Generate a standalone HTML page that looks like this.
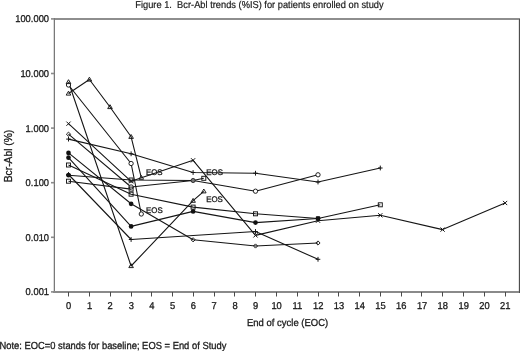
<!DOCTYPE html>
<html><head><meta charset="utf-8"><style>
html,body{margin:0;padding:0;background:#fff;overflow:hidden}
svg{display:block;will-change:transform}
</style></head><body>
<svg width="520" height="351" viewBox="0 0 520 351">
<style>
.l{fill:none;stroke:#151515;stroke-width:1.1;stroke-linejoin:round}
.o{fill:none;stroke:#151515;stroke-width:0.95}
.f{fill:#111;stroke:none}
.m{fill:none;stroke:#151515;stroke-width:1}
.t{font-family:"Liberation Sans",sans-serif;font-size:9.4px;fill:#1a1a1a;stroke:#1a1a1a;stroke-width:0.3px}
</style>
<rect width="520" height="351" fill="#fff"/>
<rect x="518" y="20" width="1" height="271" fill="#e4e4e4"/>
<rect x="54" y="18" width="466" height="2" fill="#8e8e8e"/>
<rect x="519" y="19" width="1" height="274" fill="#4d4d4d"/>
<rect x="53" y="18" width="1" height="275" fill="#dadada"/>
<rect x="54" y="18" width="1" height="275" fill="#797979"/>
<rect x="53" y="291" width="466" height="2" fill="#8a8a8a"/>
<rect x="51" y="18.1" width="3" height="1.6" fill="#8a8a8a"/>
<rect x="51" y="72.7" width="3" height="1.6" fill="#8a8a8a"/>
<rect x="51" y="127.3" width="3" height="1.6" fill="#8a8a8a"/>
<rect x="51" y="181.9" width="3" height="1.6" fill="#8a8a8a"/>
<rect x="51" y="236.5" width="3" height="1.6" fill="#8a8a8a"/>
<rect x="51" y="291.1" width="3" height="1.6" fill="#8a8a8a"/>
<rect x="68" y="292" width="1" height="4.5" fill="#4a4a4a"/>
<rect x="89" y="292" width="1" height="4.5" fill="#4a4a4a"/>
<rect x="110" y="292" width="1" height="4.5" fill="#4a4a4a"/>
<rect x="131" y="292" width="1" height="4.5" fill="#4a4a4a"/>
<rect x="151" y="292" width="1" height="4.5" fill="#4a4a4a"/>
<rect x="172" y="292" width="1" height="4.5" fill="#4a4a4a"/>
<rect x="193" y="292" width="1" height="4.5" fill="#4a4a4a"/>
<rect x="214" y="292" width="1" height="4.5" fill="#4a4a4a"/>
<rect x="234" y="292" width="1" height="4.5" fill="#4a4a4a"/>
<rect x="255" y="292" width="1" height="4.5" fill="#4a4a4a"/>
<rect x="276" y="292" width="1" height="4.5" fill="#4a4a4a"/>
<rect x="297" y="292" width="1" height="4.5" fill="#4a4a4a"/>
<rect x="318" y="292" width="1" height="4.5" fill="#4a4a4a"/>
<rect x="338" y="292" width="1" height="4.5" fill="#4a4a4a"/>
<rect x="359" y="292" width="1" height="4.5" fill="#4a4a4a"/>
<rect x="380" y="292" width="1" height="4.5" fill="#4a4a4a"/>
<rect x="401" y="292" width="1" height="4.5" fill="#4a4a4a"/>
<rect x="421" y="292" width="1" height="4.5" fill="#4a4a4a"/>
<rect x="442" y="292" width="1" height="4.5" fill="#4a4a4a"/>
<rect x="463" y="292" width="1" height="4.5" fill="#4a4a4a"/>
<rect x="484" y="292" width="1" height="4.5" fill="#4a4a4a"/>
<rect x="505" y="292" width="1" height="4.5" fill="#4a4a4a"/>
<path d="M68.5 93.5L89.4 79.5L110.0 107.0L131.1 136.8L141.3 177.7" class="l"/>
<path d="M68.5 85.0L131.1 163.5L141.3 214.0" class="l"/>
<path d="M68.5 82.0L131.1 266.0L193.1 200.7L203.8 191.3" class="l"/>
<path d="M68.5 123.7L131.1 181.3L193.1 160.3L255.5 235.4L318.0 220.7L380.3 215.3L442.6 229.6L505.1 203.0" class="l"/>
<path d="M68.5 139.1L131.1 153.8L193.1 172.5L255.5 173.2L318.0 182.0L380.3 168.0" class="l"/>
<path d="M68.5 152.9L131.1 203.8L193.1 239.8L255.5 246.0L318.0 243.0" class="l"/>
<path d="M68.5 157.7L131.1 226.4L193.1 211.4L255.5 222.6L318.0 218.5" class="l"/>
<path d="M68.5 174.5L131.1 239.5L255.5 231.5L318.0 259.3" class="l"/>
<path d="M68.5 165.0L131.1 194.2L193.1 207.1L255.5 213.8L318.0 218.5L380.3 204.8" class="l"/>
<path d="M68.5 175.2L131.1 180.0L193.1 180.5L203.8 178.3" class="l"/>
<path d="M68.5 134.2L131.1 187.0L193.1 180.5L255.5 191.2L318.0 174.8" class="l"/>
<path d="M68.5 181.2L131.1 189.1" class="l"/>
<path d="M68.50 91.20L70.80 95.10L66.20 95.10Z" class="o"/>
<path d="M89.40 77.20L91.70 81.10L87.10 81.10Z" class="o"/>
<path d="M110.00 104.70L112.30 108.60L107.70 108.60Z" class="o"/>
<path d="M131.10 134.50L133.40 138.40L128.80 138.40Z" class="o"/>
<path d="M141.30 175.40L143.60 179.30L139.00 179.30Z" class="o"/>
<circle cx="68.50" cy="85.00" r="2.15" class="o" fill="#fff" style="fill:#fff"/>
<circle cx="131.10" cy="163.50" r="2.15" class="o" fill="#fff" style="fill:#fff"/>
<circle cx="141.30" cy="214.00" r="2.15" class="o" fill="#fff" style="fill:#fff"/>
<path d="M68.50 79.70L70.80 83.60L66.20 83.60Z" class="o"/>
<path d="M131.10 263.70L133.40 267.60L128.80 267.60Z" class="o"/>
<path d="M193.10 198.40L195.40 202.30L190.80 202.30Z" class="o"/>
<path d="M203.80 189.00L206.10 192.90L201.50 192.90Z" class="o"/>
<path d="M66.40 121.60L70.60 125.80M70.60 121.60L66.40 125.80" class="m"/>
<path d="M129.00 179.20L133.20 183.40M133.20 179.20L129.00 183.40" class="m"/>
<path d="M191.00 158.20L195.20 162.40M195.20 158.20L191.00 162.40" class="m"/>
<path d="M253.40 233.30L257.60 237.50M257.60 233.30L253.40 237.50" class="m"/>
<path d="M315.90 218.60L320.10 222.80M320.10 218.60L315.90 222.80" class="m"/>
<path d="M378.20 213.20L382.40 217.40M382.40 213.20L378.20 217.40" class="m"/>
<path d="M440.50 227.50L444.70 231.70M444.70 227.50L440.50 231.70" class="m"/>
<path d="M503.00 200.90L507.20 205.10M507.20 200.90L503.00 205.10" class="m"/>
<path d="M66.20 139.10H70.80M68.50 136.70V141.50" class="m"/>
<path d="M128.80 153.80H133.40M131.10 151.40V156.20" class="m"/>
<path d="M190.80 172.50H195.40M193.10 170.10V174.90" class="m"/>
<path d="M253.20 173.20H257.80M255.50 170.80V175.60" class="m"/>
<path d="M315.70 182.00H320.30M318.00 179.60V184.40" class="m"/>
<path d="M378.00 168.00H382.60M380.30 165.60V170.40" class="m"/>
<circle cx="68.50" cy="152.90" r="2.35" class="f"/>
<circle cx="131.10" cy="203.80" r="2.35" class="f"/>
<path d="M193.10 237.70L195.20 239.80L193.10 241.90L191.00 239.80Z" class="o"/>
<path d="M255.50 243.90L257.60 246.00L255.50 248.10L253.40 246.00Z" class="o"/>
<path d="M318.00 240.90L320.10 243.00L318.00 245.10L315.90 243.00Z" class="o"/>
<circle cx="68.50" cy="157.70" r="2.35" class="f"/>
<circle cx="131.10" cy="226.40" r="2.35" class="f"/>
<circle cx="193.10" cy="211.40" r="2.35" class="f"/>
<circle cx="255.50" cy="222.60" r="2.35" class="f"/>
<circle cx="318.00" cy="218.50" r="2.35" class="f"/>
<path d="M66.20 174.50H70.80M68.50 172.10V176.90" class="m"/>
<path d="M128.80 239.50H133.40M131.10 237.10V241.90" class="m"/>
<path d="M253.20 231.50H257.80M255.50 229.10V233.90" class="m"/>
<path d="M315.70 259.30H320.30M318.00 256.90V261.70" class="m"/>
<rect x="66.50" y="163.00" width="4" height="4" class="o"/>
<rect x="129.10" y="192.20" width="4" height="4" class="o"/>
<rect x="191.10" y="205.10" width="4" height="4" class="o"/>
<rect x="253.50" y="211.80" width="4" height="4" class="o"/>
<rect x="315.90" y="216.40" width="4.2" height="4.2" class="f"/>
<rect x="378.30" y="202.80" width="4" height="4" class="o"/>
<circle cx="68.50" cy="175.20" r="2.35" class="f"/>
<rect x="129.10" y="178.00" width="4" height="4" class="o"/>

<rect x="201.80" y="176.30" width="4" height="4" class="o"/>
<path d="M68.50 132.10L70.60 134.20L68.50 136.30L66.40 134.20Z" class="o"/>
<circle cx="131.10" cy="187.00" r="2.15" class="o" fill="#fff" style="fill:#fff"/>
<circle cx="193.10" cy="180.50" r="2.1" fill="#777" stroke="#222" stroke-width="0.9"/>
<circle cx="255.50" cy="191.20" r="2.15" class="o" fill="#fff" style="fill:#fff"/>
<circle cx="318.00" cy="174.80" r="2.15" class="o" fill="#fff" style="fill:#fff"/>
<rect x="66.50" y="179.20" width="4" height="4" class="o"/>
<rect x="129.10" y="187.10" width="4" height="4" class="o"/>
<text transform="translate(49.1 22.45) skewX(0.3) scale(0.94 1)" text-anchor="end" class="t" style="font-size:10px">100.000</text>
<text transform="translate(49.1 77.05) skewX(0.3) scale(0.94 1)" text-anchor="end" class="t" style="font-size:10px">10.000</text>
<text transform="translate(49.1 131.65) skewX(0.3) scale(0.94 1)" text-anchor="end" class="t" style="font-size:10px">1.000</text>
<text transform="translate(49.1 186.25) skewX(0.3) scale(0.94 1)" text-anchor="end" class="t" style="font-size:10px">0.100</text>
<text transform="translate(49.1 240.85) skewX(0.3) scale(0.94 1)" text-anchor="end" class="t" style="font-size:10px">0.010</text>
<text transform="translate(49.1 295.45) skewX(0.3) scale(0.94 1)" text-anchor="end" class="t" style="font-size:10px">0.001</text>
<text transform="translate(68.7 309.1) skewX(0.3) scale(0.94 1)" text-anchor="middle" class="t" style="font-size:10px">0</text>
<text transform="translate(89.6 309.1) skewX(0.3) scale(0.94 1)" text-anchor="middle" class="t" style="font-size:10px">1</text>
<text transform="translate(110.2 309.1) skewX(0.3) scale(0.94 1)" text-anchor="middle" class="t" style="font-size:10px">2</text>
<text transform="translate(131.3 309.1) skewX(0.3) scale(0.94 1)" text-anchor="middle" class="t" style="font-size:10px">3</text>
<text transform="translate(151.9 309.1) skewX(0.3) scale(0.94 1)" text-anchor="middle" class="t" style="font-size:10px">4</text>
<text transform="translate(172.7 309.1) skewX(0.3) scale(0.94 1)" text-anchor="middle" class="t" style="font-size:10px">5</text>
<text transform="translate(193.3 309.1) skewX(0.3) scale(0.94 1)" text-anchor="middle" class="t" style="font-size:10px">6</text>
<text transform="translate(214.2 309.1) skewX(0.3) scale(0.94 1)" text-anchor="middle" class="t" style="font-size:10px">7</text>
<text transform="translate(235.0 309.1) skewX(0.3) scale(0.94 1)" text-anchor="middle" class="t" style="font-size:10px">8</text>
<text transform="translate(255.7 309.1) skewX(0.3) scale(0.94 1)" text-anchor="middle" class="t" style="font-size:10px">9</text>
<text transform="translate(276.6 309.1) skewX(0.3) scale(0.94 1)" text-anchor="middle" class="t" style="font-size:10px">10</text>
<text transform="translate(297.4 309.1) skewX(0.3) scale(0.94 1)" text-anchor="middle" class="t" style="font-size:10px">11</text>
<text transform="translate(318.2 309.1) skewX(0.3) scale(0.94 1)" text-anchor="middle" class="t" style="font-size:10px">12</text>
<text transform="translate(339.0 309.1) skewX(0.3) scale(0.94 1)" text-anchor="middle" class="t" style="font-size:10px">13</text>
<text transform="translate(359.8 309.1) skewX(0.3) scale(0.94 1)" text-anchor="middle" class="t" style="font-size:10px">14</text>
<text transform="translate(380.5 309.1) skewX(0.3) scale(0.94 1)" text-anchor="middle" class="t" style="font-size:10px">15</text>
<text transform="translate(401.3 309.1) skewX(0.3) scale(0.94 1)" text-anchor="middle" class="t" style="font-size:10px">16</text>
<text transform="translate(422.1 309.1) skewX(0.3) scale(0.94 1)" text-anchor="middle" class="t" style="font-size:10px">17</text>
<text transform="translate(442.8 309.1) skewX(0.3) scale(0.94 1)" text-anchor="middle" class="t" style="font-size:10px">18</text>
<text transform="translate(463.7 309.1) skewX(0.3) scale(0.94 1)" text-anchor="middle" class="t" style="font-size:10px">19</text>
<text transform="translate(484.5 309.1) skewX(0.3) scale(0.94 1)" text-anchor="middle" class="t" style="font-size:10px">20</text>
<text transform="translate(505.3 309.1) skewX(0.3) scale(0.94 1)" text-anchor="middle" class="t" style="font-size:10px">21</text>
<text transform="translate(135.3 8.0) skewX(0.3)" class="t" style="font-size:10px;stroke-width:0.2px" textLength="248.3" lengthAdjust="spacingAndGlyphs">Figure 1.&#160; Bcr-Abl trends (%IS) for patients enrolled on study</text>
<text transform="translate(247 325.9) skewX(0.3)" class="t" style="font-size:10px" textLength="81.2" lengthAdjust="spacingAndGlyphs">End of cycle (EOC)</text>
<text transform="translate(-0.6 349.4) skewX(0.3)" class="t" style="font-size:10.2px" textLength="227" lengthAdjust="spacingAndGlyphs">Note: EOC=0 stands for baseline; EOS = End of Study</text>
<text transform="translate(11.8 182.3) rotate(-90)" x="0" y="0" class="t" style="font-size:10px" textLength="52.6" lengthAdjust="spacingAndGlyphs">Bcr-Abl (%)</text>
<text transform="translate(145.9 175.0) skewX(0.3)" class="t" style="font-size:8.1px;stroke-width:0.3px" textLength="16.7" lengthAdjust="spacingAndGlyphs">EOS</text>
<text transform="translate(146.1 213.3) skewX(0.3)" class="t" style="font-size:8.1px;stroke-width:0.3px" textLength="16.7" lengthAdjust="spacingAndGlyphs">EOS</text>
<text transform="translate(206.3 174.5) skewX(0.3)" class="t" style="font-size:8.1px;stroke-width:0.3px" textLength="16.7" lengthAdjust="spacingAndGlyphs">EOS</text>
<text transform="translate(206.2 202.3) skewX(0.3)" class="t" style="font-size:8.1px;stroke-width:0.3px" textLength="16.7" lengthAdjust="spacingAndGlyphs">EOS</text>
</svg>
</body></html>
